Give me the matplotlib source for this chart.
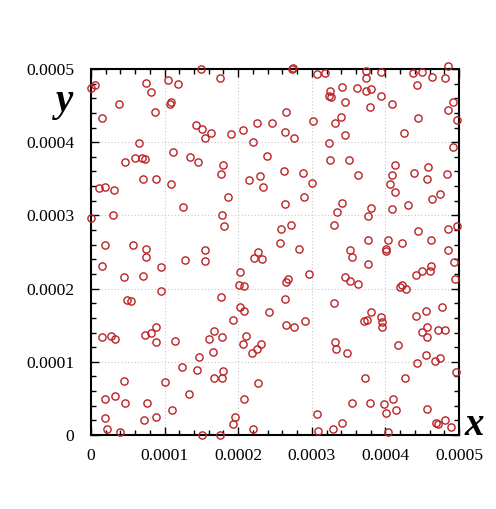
import matplotlib
matplotlib.use("Agg")
import matplotlib.pyplot as plt
import numpy as np
from matplotlib.ticker import MultipleLocator, FixedLocator, FixedFormatter

# Values in units of 1e-4
x_e4 = [0.00, 0.05, 1.490, 0.743, 1.042, 1.178, 0.815, 0.376, 1.087, 1.069,
        0.154, 0.865, 1.423, 1.508, 1.630, 1.545, 0.656, 1.110, 0.462, 0.602,
        0.693, 0.734, 1.349, 1.454, 0.707, 0.883, 1.087, 0.113, 0.190, 0.308,
        1.753, 2.727, 2.745, 3.071, 3.179, 3.410, 3.247, 3.230, 3.265, 2.654,
        2.255, 2.459, 3.020, 3.322, 3.397, 1.906, 2.065, 2.640, 2.762, 2.201,
        3.230, 2.395, 3.247, 1.789, 1.770, 2.622, 2.885, 2.151, 2.292, 2.341,
        3.007, 4.851, 3.736, 3.944, 4.379, 4.501, 4.637, 4.814, 3.736, 3.614,
        3.736, 3.804, 4.429, 3.944, 3.455, 3.787, 4.086, 4.914, 4.846, 4.977,
        4.447, 4.257, 3.455, 4.914, 3.505, 4.135, 3.632, 4.090, 4.393, 4.575,
        4.569, 4.833, 4.067, 4.135, 1.246, 0.00, 0.295, 0.186, 0.571, 0.743,
        0.743, 0.154, 0.448, 0.707, 0.951, 1.281, 1.545, 1.545, 0.955, 0.493,
        0.539, 1.861, 2.898, 2.640, 1.784, 1.803, 2.586, 2.721, 3.295, 3.336,
        3.410, 2.568, 2.826, 2.273, 2.219, 2.327, 2.029, 2.011, 2.083, 2.673,
        2.654, 2.966, 1.766, 2.640, 2.029, 2.083, 2.414, 3.306, 3.804, 3.768,
        4.086, 4.307, 4.637, 4.746, 4.447, 4.851, 4.973, 3.768, 4.031, 4.221,
        4.624, 4.008, 4.012, 3.523, 3.546, 4.846, 4.936, 3.768, 4.624, 4.602,
        4.501, 4.412, 4.950, 3.455, 3.523, 3.632, 4.221, 4.202, 4.276, 3.804,
        3.947, 4.412, 4.548, 4.773, 0.154, 0.276, 0.330, 0.738, 0.815, 0.883,
        0.883, 1.141, 1.675, 1.603, 1.651, 1.471, 1.232, 1.440, 1.671, 0.448,
        1.001, 1.336, 0.186, 0.326, 0.466, 0.761, 1.105, 0.186, 0.724, 0.883,
        0.221, 0.394, 1.508, 1.925, 2.654, 2.762, 2.904, 1.784, 2.102, 2.065,
        2.310, 2.260, 2.188, 3.315, 3.329, 1.789, 1.784, 2.273, 2.079, 1.957,
        1.925, 2.205, 1.749, 3.071, 3.088, 3.284, 3.950, 3.950, 3.705, 3.746,
        4.501, 4.569, 4.569, 4.711, 4.814, 3.474, 4.167, 4.548, 4.670, 4.746,
        4.429, 4.955, 3.719, 4.270, 3.546, 3.787, 3.977, 4.099, 4.148, 4.012,
        4.569, 3.414, 4.031, 4.683, 4.711, 4.814, 4.895]

y_e4 = [4.745, 4.777, 5.004, 4.809, 4.846, 4.795, 4.686, 4.518, 4.549, 4.526,
        4.335, 4.408, 4.235, 4.180, 4.130, 4.057, 3.989, 3.866, 3.730, 3.780,
        3.780, 3.766, 3.798, 3.730, 3.501, 3.501, 3.429, 3.374, 3.384, 3.351,
        4.881, 5.000, 5.014, 4.932, 4.945, 4.758, 4.704, 4.635, 4.617, 4.408,
        4.266, 4.266, 4.286, 4.266, 4.340, 4.112, 4.163, 4.143, 4.057, 4.007,
        3.989, 3.811, 3.761, 3.689, 3.570, 3.607, 3.583, 3.484, 3.534, 3.384,
        3.447, 5.037, 4.969, 4.963, 4.945, 4.963, 4.895, 4.881, 4.877, 4.740,
        4.699, 4.723, 4.777, 4.635, 4.545, 4.477, 4.518, 4.545, 4.440, 4.303,
        4.335, 4.130, 4.094, 3.934, 3.761, 3.689, 3.548, 3.548, 3.583, 3.657,
        3.497, 3.570, 3.429, 3.326, 3.115, 2.960, 3.010, 2.592, 2.592, 2.541,
        2.432, 2.313, 2.154, 2.172, 2.295, 2.395, 2.523, 2.377, 1.963, 1.840,
        1.827, 3.251, 3.251, 3.152, 3.010, 2.851, 2.818, 2.869, 2.869, 3.046,
        3.169, 2.623, 2.541, 2.500, 2.418, 2.400, 2.223, 2.049, 2.036, 2.135,
        2.086, 2.204, 1.889, 1.854, 1.749, 1.698, 1.684, 1.807, 3.097, 2.992,
        3.083, 3.146, 3.220, 3.292, 2.783, 2.818, 2.855, 2.664, 2.660, 2.623,
        2.664, 2.537, 2.518, 2.523, 2.432, 2.523, 2.363, 2.332, 2.313, 2.240,
        2.240, 2.190, 2.135, 2.154, 2.104, 2.067, 2.049, 2.018, 1.995, 1.680,
        1.612, 1.626, 1.694, 1.749, 1.335, 1.352, 1.311, 1.370, 1.389, 1.475,
        1.266, 1.280, 1.417, 1.318, 1.138, 1.070, 0.933, 0.892, 0.775, 0.742,
        0.724, 0.564, 0.496, 0.529, 0.441, 0.441, 0.342, 0.232, 0.201, 0.250,
        0.078, 0.041, 0.004, 1.575, 1.507, 1.475, 1.561, 1.335, 1.352, 1.247,
        1.247, 1.175, 1.124, 1.266, 1.175, 0.878, 0.775, 0.706, 0.496, 0.250,
        0.146, 0.078, 0.000, 0.283, 0.059, 0.078, 1.544, 1.475, 1.561, 1.575,
        1.403, 1.475, 1.335, 1.439, 1.439, 1.124, 1.230, 1.089, 1.015, 1.052,
        0.984, 0.861, 0.775, 0.775, 0.441, 0.441, 0.424, 0.496, 0.342, 0.301,
        0.355, 0.160, 0.041, 0.160, 0.146, 0.201, 0.109]

tick_values = [0, 0.0001, 0.0002, 0.0003, 0.0004, 0.0005]
tick_labels = ["0", "0.0001", "0.0002", "0.0003", "0.0004", "0.0005"]

x = np.array(x_e4) * 1e-4
y = np.array(y_e4) * 1e-4

plt.rcParams['font.family'] = ['Liberation Serif', 'DejaVu Serif']

fig = plt.figure(figsize=(4.96, 5.09), dpi=100)
ax = fig.add_axes([91/496, 74/509, 368/496, 366/509])

ax.plot(x, y, linestyle='none', marker='o', markersize=5.2,
        markerfacecolor='none', markeredgecolor='#bb2226',
        markeredgewidth=1.0, clip_on=False, zorder=3)

ax.set_xlim(0, 0.0005)
ax.set_ylim(0, 0.0005)
ax.xaxis.set_major_locator(FixedLocator(tick_values))
ax.yaxis.set_major_locator(FixedLocator(tick_values))
ax.xaxis.set_major_formatter(FixedFormatter(tick_labels))
ax.yaxis.set_major_formatter(FixedFormatter(tick_labels))
ax.xaxis.set_minor_locator(MultipleLocator(0.00002))
ax.yaxis.set_minor_locator(MultipleLocator(0.00002))

ax.tick_params(which='both', direction='in', top=True, right=True,
               labelsize=12.6, width=1.0)
ax.tick_params(which='major', length=6)
ax.tick_params(which='minor', length=3.5)
ax.tick_params(axis='y', pad=12)
ax.tick_params(axis='x', pad=9)

ax.grid(True, which='major', linestyle=(0, (1, 2)), color='#c8c8c8', linewidth=0.8)
ax.set_axisbelow(True)
for s in ax.spines.values():
    s.set_linewidth(1.5)

ax.text(-0.072, 0.91, 'y', transform=ax.transAxes, fontsize=28,
        fontstyle='italic', fontweight='bold', ha='center', va='center')
ax.text(1.04, 0.0, 'x', transform=ax.transAxes, fontsize=28,
        fontstyle='italic', fontweight='bold', ha='center', va='baseline')

fig.savefig('out.png', dpi=100)
